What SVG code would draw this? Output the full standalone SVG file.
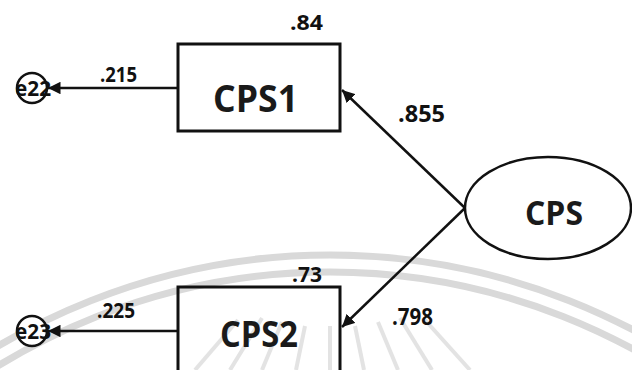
<svg xmlns="http://www.w3.org/2000/svg" width="632" height="370" viewBox="0 0 632 370">
<style>
.bg{fill:#ffffff}
.wm{fill:none;stroke:#d9d9d9;stroke-width:7}
.ray{stroke:#e3e3e3;stroke-width:4}
.box{fill:none;stroke:#111;stroke-width:3}
.ell{fill:#ffffff;stroke:#111;stroke-width:2.5}
.err{fill:#ffffff;stroke:#111;stroke-width:2.5}
.edge{stroke:#111;stroke-width:2.5;fill:none;marker-end:url(#ah)}
.big{font-family:"Open Sans","DejaVu Sans",sans-serif;font-weight:700;font-size:38px;fill:#1a1a1a}
.num{font-family:"Open Sans","DejaVu Sans",sans-serif;font-weight:700;font-size:21px;fill:#111}
.etx{font-family:"Open Sans","DejaVu Sans",sans-serif;font-weight:700;font-size:21px;fill:#111}
</style>
<defs>
<marker id="ah" viewBox="0 0 10 10" refX="10" refY="5" markerWidth="5" markerHeight="5" orient="auto" markerUnits="strokeWidth">
<path d="M0,0 L10,5 L0,10 z" fill="#111"/>
</marker>
</defs>
<rect class="bg" x="0" y="0" width="632" height="370"/>
<g id="watermark">
<circle class="wm" cx="330" cy="905" r="650"/>
<circle class="wm" cx="330" cy="905" r="633"/>
<g class="ray">
<line x1="230" y1="370" x2="262" y2="318"/>
<line x1="262" y1="370" x2="282" y2="322"/>
<line x1="296" y1="370" x2="305" y2="326"/>
<line x1="330" y1="370" x2="330" y2="326"/>
<line x1="364" y1="370" x2="355" y2="326"/>
<line x1="398" y1="370" x2="378" y2="322"/>
<line x1="432" y1="370" x2="400" y2="318"/>
<line x1="470" y1="370" x2="425" y2="320"/>
<line x1="195" y1="370" x2="238" y2="320"/>
</g>
</g>
<g id="connectors">
<line class="edge" x1="178" y1="88" x2="48" y2="88"/>
<line class="edge" x1="178" y1="331" x2="48" y2="331"/>
<line class="edge" x1="465" y1="208" x2="342" y2="90"/>
<line class="edge" x1="465" y1="208" x2="342" y2="327"/>
</g>
<g id="e22">
<circle class="err" cx="32" cy="88" r="15"/>
<text class="etx" x="33" y="95.5" text-anchor="middle" textLength="36" lengthAdjust="spacingAndGlyphs">e22</text>
</g>
<g id="e23">
<circle class="err" cx="32" cy="331" r="15"/>
<text class="etx" x="33" y="338.5" text-anchor="middle" textLength="36" lengthAdjust="spacingAndGlyphs">e23</text>
</g>
<g id="CPS1">
<rect class="box" x="178" y="44" width="162" height="87"/>
<text class="big" x="213" y="112" textLength="85" lengthAdjust="spacingAndGlyphs">CPS1</text>
</g>
<g id="CPS2">
<rect class="box" x="178" y="287" width="162" height="100"/>
<text class="big" x="220" y="347" textLength="78" lengthAdjust="spacingAndGlyphs" style="font-size:36px">CPS2</text>
</g>
<g id="CPS">
<ellipse class="ell" cx="548" cy="208" rx="83" ry="51"/>
<text class="big" x="525" y="225" textLength="58" lengthAdjust="spacingAndGlyphs" style="font-size:34px">CPS</text>
</g>
<g id="labels">
<text class="num" x="100" y="82" textLength="37" lengthAdjust="spacingAndGlyphs">.215</text>
<text class="num" x="97" y="318" textLength="38" lengthAdjust="spacingAndGlyphs">.225</text>
<text class="num" x="290" y="30" textLength="33" lengthAdjust="spacingAndGlyphs">.84</text>
<text class="num" x="292" y="282" textLength="30" lengthAdjust="spacingAndGlyphs">.73</text>
<text class="num" x="398" y="122" textLength="47" lengthAdjust="spacingAndGlyphs" style="font-size:24px">.855</text>
<text class="num" x="392" y="325" textLength="41" lengthAdjust="spacingAndGlyphs" style="font-size:24px">.798</text>
</g>
</svg>
